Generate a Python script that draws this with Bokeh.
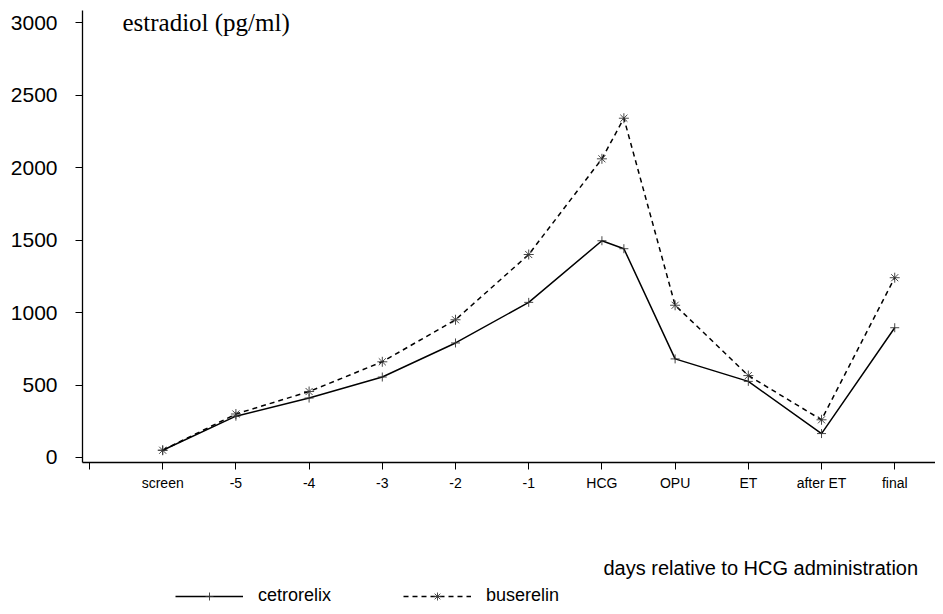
from bokeh.plotting import figure
from bokeh.layouts import column
from bokeh.models import FixedTicker, Label, Legend, LegendItem, Range1d
from bokeh.embed import file_html
from bokeh.resources import INLINE

# ---- data ----
tick_positions = [0, 1, 2, 3, 4, 5, 6, 7, 8, 9, 10, 11]
tick_labels = ["", "screen", "-5", "-4", "-3", "-2", "-1", "HCG", "OPU", "ET", "after ET", "final"]

cetro_x = [1, 2, 3, 4, 5, 6, 7, 7.3, 8, 9, 10, 11]
cetro_y = [50, 285, 410, 555, 790, 1070, 1495, 1440, 680, 525, 165, 895]

buser_x = [1, 2, 3, 4, 5, 6, 7, 7.3, 8, 9, 10, 11]
buser_y = [50, 300, 455, 660, 950, 1400, 2060, 2340, 1050, 565, 260, 1240]

y_ticks = [0, 500, 1000, 1500, 2000, 2500, 3000]

SANS = "Liberation Sans"
SERIF = "Liberation Serif"

# ---- main chart ----
p = figure(width=935, height=502, output_backend="svg", toolbar_location=None,
           x_range=Range1d(-0.0956, 11.557), y_range=Range1d(-34.5, 3083),
           min_border_left=82, min_border_right=0, min_border_top=10, min_border_bottom=40)
p.outline_line_color = None
p.grid.visible = False
p.background_fill_color = "white"

p.xaxis.ticker = FixedTicker(ticks=tick_positions)
p.xaxis.major_label_overrides = {t: l for t, l in zip(tick_positions, tick_labels)}
p.xaxis.major_label_text_font = SANS
p.xaxis.major_label_text_font_size = "14px"
p.xaxis.major_label_text_color = "black"
p.xaxis.major_tick_out = 7
p.xaxis.major_tick_in = 0
p.xaxis.minor_tick_line_color = None
p.xaxis.major_label_standoff = 5
p.xaxis.axis_line_width = 1.3
p.xaxis.axis_line_color = "black"
p.xaxis.major_tick_line_color = "black"

p.yaxis.ticker = FixedTicker(ticks=y_ticks)
p.yaxis.major_label_text_font = SANS
p.yaxis.major_label_text_font_size = "21px"
p.yaxis.major_label_text_color = "black"
p.yaxis.major_tick_out = 7
p.yaxis.major_tick_in = 0
p.yaxis.minor_tick_line_color = None
p.yaxis.major_label_standoff = 18
p.yaxis.axis_line_width = 1.3
p.yaxis.axis_line_color = "black"
p.yaxis.major_tick_line_color = "black"

def draw_series(fig, visible=True):
    a = fig.line(cetro_x, cetro_y, line_color="black", line_width=1.5, visible=visible)
    b = fig.scatter(cetro_x, cetro_y, marker="cross", size=9, line_color="#333333",
                    line_width=0.9, visible=visible)
    c = fig.line(buser_x, buser_y, line_color="black", line_width=1.5, line_dash="5 4",
                 visible=visible)
    d = fig.scatter(buser_x, buser_y, marker="asterisk", size=10, line_color="#333333",
                    line_width=0.9, visible=visible)
    return a, b, c, d

draw_series(p)

p.add_layout(Label(x=0.45, y=3000, text="estradiol (pg/ml)", text_font=SERIF,
                   text_font_size="25px", text_baseline="middle", text_align="left",
                   text_color="black"))

# ---- bottom strip: x-axis title and legend (frame aligned with main frame) ----
p2 = figure(width=935, height=104, output_backend="svg", toolbar_location=None,
            x_range=Range1d(82, 935), y_range=Range1d(0, 104),
            x_axis_type=None, y_axis_type=None,
            min_border_left=0, min_border_right=0, min_border_top=0, min_border_bottom=0)
p2.outline_line_color = None
p2.grid.visible = False

l1, s1, l2, s2 = draw_series(p2, visible=False)

p2.add_layout(Label(x=603, y=39, text="days relative to HCG administration",
                    text_font=SANS, text_font_size="20px", text_baseline="middle",
                    text_align="left", text_color="black"))

legend = Legend(items=[LegendItem(label="cetrorelix", renderers=[l1, s1]),
                       LegendItem(label="buserelin", renderers=[l2, s2])],
                orientation="horizontal", location=(93, 0),
                glyph_width=68, glyph_height=20, label_standoff=15, spacing=72,
                padding=0, margin=0, border_line_alpha=0, background_fill_alpha=0,
                label_text_font=SANS, label_text_font_size="18px",
                label_text_color="black")
p2.add_layout(legend, "center")

open("out.html", "w").write(file_html(column(p, p2, spacing=0), INLINE))
